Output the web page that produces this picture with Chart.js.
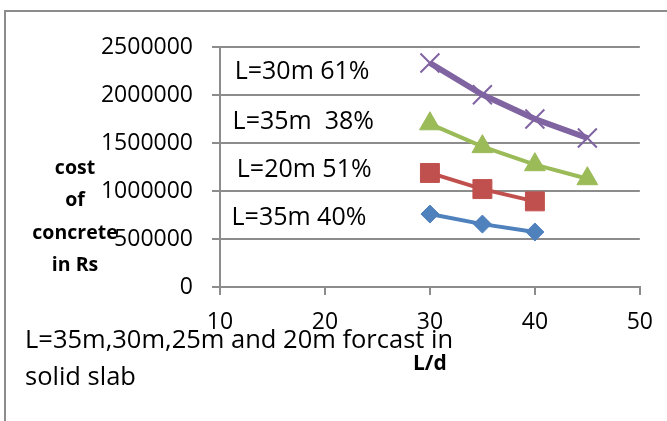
<!DOCTYPE html>
<html lang="en">
<head>
  <meta charset="UTF-8">
  <title>Cost of concrete vs L/d</title>
  <script src="https://cdn.jsdelivr.net/npm/chart.js"></script>
  <style>
    body {
      margin: 0;
      background: #fff;
    }
    canvas {
      display: block;
    }
  </style>
</head>
<body>
  <canvas id="costChart" width="667" height="421"></canvas>

  <script>
    // L/d values (x axis)
    const ldRatio = [30, 35, 40, 45];

    // cost of concrete in Rs, one list per span
    const costL35low = [760000, 655000, 573000];
    const costL20 = [1188000, 1020000, 892000];
    const costL35high = [1700000, 1462000, 1274000, 1128000];
    const costL30 = [2333000, 2003000, 1750000, 1552000];

    const xTicks = [10, 20, 30, 40, 50];
    const yTicks = [0, 500000, 1000000, 1500000, 2000000, 2500000];

    const noteLabels = ['L=30m 61%', 'L=35m  38%', 'L=20m 51%', 'L=35m 40%'];
    const yTitleLines = ['cost', 'of', 'concrete', 'in Rs'];
    const footerLines = ['L=35m,30m,25m and 20m forcast in', 'solid slab'];

    const gridGray = '#8c8c8c';
    const fontFam = "'Open Sans', sans-serif";

    function toPoints(values) {
      return values.map((v, i) => ({ x: ldRatio[i], y: v }));
    }

    // texts drawn on top of the chart
    const extraText = {
      id: 'extraText',
      beforeDraw(chart) {
        const ctx = chart.ctx;
        ctx.save();
        ctx.fillStyle = '#fff';
        ctx.fillRect(0, 0, chart.width, chart.height);
        ctx.restore();
      },
      afterDraw(chart) {
        const ctx = chart.ctx;
        const xs = chart.scales.x;
        const ys = chart.scales.y;
        ctx.save();

        // outer frame (left and top only are visible)
        ctx.strokeStyle = gridGray;
        ctx.lineWidth = 2;
        ctx.beginPath();
        ctx.moveTo(5, chart.height);
        ctx.lineTo(5, 11);
        ctx.lineTo(chart.width, 11);
        ctx.stroke();

        // notes inside the plot
        const anchors = [[11.4, 2246000], [11.2, 1725000], [11.6, 1222000], [11.1, 722000]];
        ctx.fillStyle = '#000';
        ctx.font = '25px ' + fontFam;
        ctx.textAlign = 'left';
        ctx.textBaseline = 'middle';
        noteLabels.forEach((t, i) => {
          ctx.fillText(t, xs.getPixelForValue(anchors[i][0]), ys.getPixelForValue(anchors[i][1]));
        });

        // y axis title, horizontal lines
        ctx.font = 'bold 19.5px ' + fontFam;
        ctx.textAlign = 'center';
        yTitleLines.forEach((t, i) => {
          ctx.fillText(t, 75, 168 + i * 32.5);
        });

        // caption over the bottom
        ctx.font = '25.5px ' + fontFam;
        ctx.textAlign = 'left';
        footerLines.forEach((t, i) => {
          ctx.fillText(t, 25, 341 + i * 37);
        });
        ctx.restore();
      }
    };

    const ctx = document.getElementById('costChart').getContext('2d');
    new Chart(ctx, {
      type: 'scatter',
      data: {
        datasets: [
          {
            label: 'L=35m 40%',
            data: toPoints(costL35low),
            showLine: true,
            borderColor: '#4F81BD',
            backgroundColor: '#4F81BD',
            borderWidth: 4,
            pointStyle: 'rectRot',
            pointRadius: 9,
            pointBorderWidth: 1
          },
          {
            label: 'L=20m 51%',
            data: toPoints(costL20),
            showLine: true,
            borderColor: '#C0504D',
            backgroundColor: '#C0504D',
            borderWidth: 4,
            pointStyle: 'rect',
            pointRadius: 13.4,
            pointBorderWidth: 1
          },
          {
            label: 'L=35m 38%',
            data: toPoints(costL35high),
            showLine: true,
            borderColor: '#9BBB59',
            backgroundColor: '#9BBB59',
            borderWidth: 4,
            pointStyle: 'triangle',
            pointRadius: 12,
            pointBorderWidth: 1
          },
          {
            label: 'L=30m 61%',
            data: toPoints(costL30),
            showLine: true,
            borderColor: '#8064A2',
            backgroundColor: '#8064A2',
            borderWidth: 6,
            pointStyle: 'crossRot',
            pointRadius: 13.4,
            pointBorderWidth: 2
          }
        ]
      },
      options: {
        responsive: false,
        animation: false,
        devicePixelRatio: 1,
        layout: {
          padding: { left: 0, top: 47, right: 25, bottom: 0 }
        },
        plugins: {
          legend: { display: false },
          tooltip: { enabled: false }
        },
        scales: {
          x: {
            type: 'linear',
            min: xTicks[0],
            max: xTicks[xTicks.length - 1],
            afterBuildTicks: (scale) => {
              scale.ticks = xTicks.map(v => ({ value: v }));
            },
            afterFit: (scale) => { scale.height = 134; },
            ticks: {
              color: '#000',
              font: { family: fontFam, size: 23 },
              padding: 14,
              maxRotation: 0
            },
            grid: {
              drawOnChartArea: false,
              drawTicks: true,
              tickLength: 8,
              color: gridGray,
              lineWidth: 2
            },
            border: { color: gridGray, width: 2 },
            title: {
              display: true,
              text: 'L/d',
              color: '#000',
              font: { family: fontFam, size: 21, weight: 'bold' },
              padding: { top: 0, bottom: 44 }
            }
          },
          y: {
            min: yTicks[0],
            max: yTicks[yTicks.length - 1],
            afterBuildTicks: (scale) => {
              scale.ticks = yTicks.map(v => ({ value: v }));
            },
            afterFit: (scale) => { scale.width = 220; },
            ticks: {
              color: '#000',
              font: { family: fontFam, size: 23 },
              padding: 19,
              callback: (v) => String(v)
            },
            grid: {
              drawTicks: true,
              tickLength: 8,
              color: gridGray,
              lineWidth: 2
            },
            border: { color: gridGray, width: 2 }
          }
        }
      },
      plugins: [extraText]
    });
  </script>
</body>
</html>
